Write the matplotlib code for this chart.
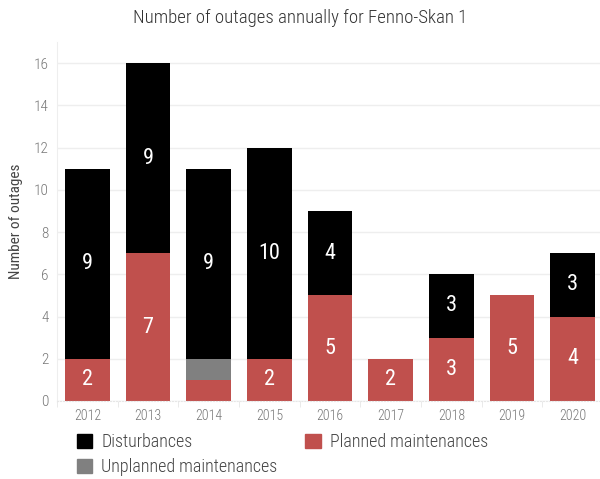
import matplotlib.pyplot as plt
import numpy as np
from matplotlib.patches import Patch

years = ["2012", "2013", "2014", "2015", "2016", "2017", "2018", "2019", "2020"]
planned = [2, 7, 1, 2, 5, 2, 3, 5, 4]
unplanned = [0, 0, 1, 0, 0, 0, 0, 0, 0]
disturbances = [9, 9, 9, 10, 4, 0, 3, 0, 3]

plt.rcParams['font.family'] = ['Roboto Condensed', 'DejaVu Sans']
plt.rcParams['font.weight'] = 300

red = "#c0504d"
grey = "#808080"

fig = plt.figure(figsize=(6, 4.79), dpi=100)
ax = fig.add_axes([0.095, 0.163, 0.91, 0.749])

x = np.arange(len(years))
w = 0.74
planned = np.array(planned)
unplanned = np.array(unplanned)
disturbances = np.array(disturbances)

ax.bar(x, planned, w, color=red, zorder=2)
ax.bar(x, unplanned, w, bottom=planned, color=grey, zorder=2)
ax.bar(x, disturbances, w, bottom=planned + unplanned, color="black", zorder=2)

# segment labels (small segments left unlabeled)
for i in range(len(years)):
    base = 0
    for vals in (planned, unplanned, disturbances):
        v = vals[i]
        if v >= 2:
            ax.text(x[i], base + v / 2, str(v), ha="center", va="center",
                    color="white", fontsize=16, fontweight=400)
        base += v

ax.set_xlim(-0.5, 8.45)
ax.set_ylim(0, 17)
ax.set_yticks(range(0, 17, 2))
ax.set_xticks(x)
ax.set_xticklabels(years)
ax.set_xticks(np.arange(-0.5, 9, 1), minor=True)
ax.tick_params(axis="x", which="major", length=0, labelsize=10, colors="#777777", pad=6)
ax.tick_params(axis="x", which="minor", length=4, color="#e6e6e6")
ax.tick_params(axis="y", length=0, labelsize=11, colors="#777777", pad=6)
ax.grid(axis="y", color="#eeeeee", linewidth=1, zorder=0)

for s in ["top", "right"]:
    ax.spines[s].set_visible(False)
ax.spines["left"].set_color("#eeeeee")
ax.spines["bottom"].set_color("#e6e6e6")
ax.spines["bottom"].set_linestyle(":")

ax.set_ylabel("Number of outages", fontsize=11, color="#444444", labelpad=8)
fig.text(0.5, 0.962, "Number of outages annually for Fenno-Skan 1", ha="center",
         va="center", fontsize=13.5, color="#333333")

handles = [Patch(color="black", label="Disturbances"),
           Patch(color=grey, label="Unplanned maintenances"),
           Patch(color=red, label="Planned maintenances")]
fig.legend(handles=handles, ncol=2, loc="upper left", bbox_to_anchor=(0.128, 0.096),
           frameon=False, fontsize=13, handlelength=0.85, handleheight=0.85,
           handletextpad=0.5, columnspacing=1.55, labelspacing=0.4, borderaxespad=0,
           borderpad=0, labelcolor="#444444")

plt.savefig("out.png", dpi=100)
